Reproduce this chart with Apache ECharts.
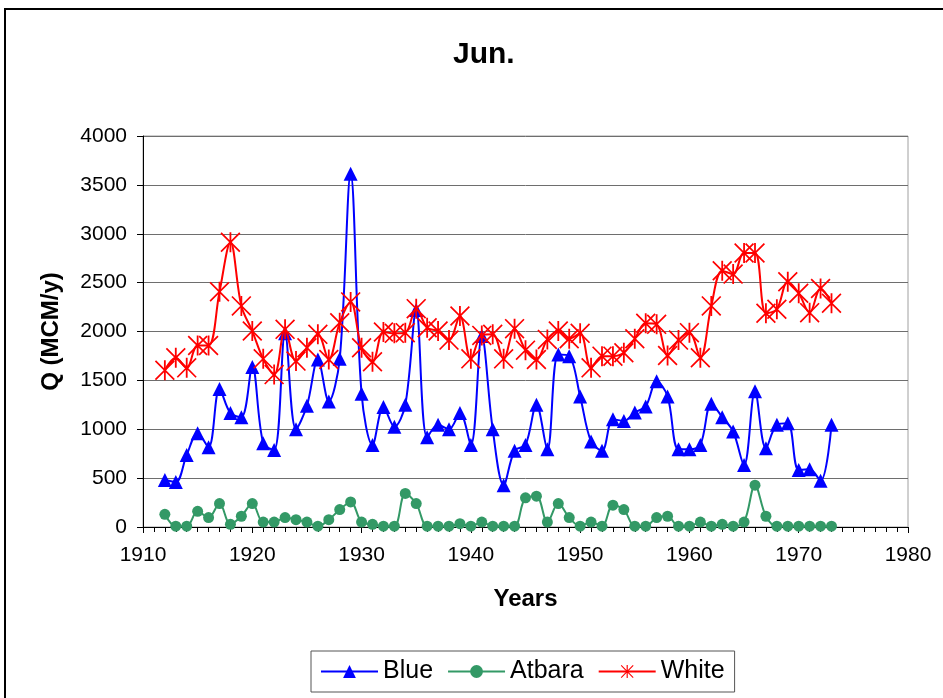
<!DOCTYPE html>
<html>
<head>
<meta charset="utf-8">
<script src="https://cdn.jsdelivr.net/npm/echarts@6/dist/echarts.min.js"></script>
<style>
html,body{margin:0;padding:0;background:#fff;}
#chart{width:943px;height:698px;}
</style>
</head>
<body>
<div id="chart"></div>
<script>
const years = [1912,1913,1914,1915,1916,1917,1918,1919,1920,1921,1922,1923,1924,1925,1926,1927,1928,1929,1930,1931,
  1932,1933,1934,1935,1936,1937,1938,1939,1940,1941,1942,1943,1944,1945,1946,1947,1948,1949,1950,1951,
  1952,1953,1954,1955,1956,1957,1958,1959,1960,1961,1962,1963,1964,1965,1966,1967,1968,1969,1970,1971,1972,1973];

const blue = [480,460,737,960,816,1412,1165,1124,1638,857,788,1981,1000,1240,1713,1285,1720,3615,1364,840,
  1227,1025,1251,2220,918,1045,1000,1165,840,1953,1000,428,781,840,1251,795,1765,1748,1336,874,
  781,1103,1085,1172,1234,1491,1336,795,795,840,1261,1124,977,634,1388,805,1045,1062,583,590,473,1045];

const atbara = [130,8,8,160,96,240,27,110,240,51,51,96,75,51,8,75,178,257,51,27,
  8,8,343,240,8,8,8,34,8,51,8,8,8,298,315,51,240,96,8,51,
  8,223,178,8,8,96,110,8,8,51,8,27,8,51,428,110,8,8,8,8,8,8];

const white = [1604,1731,1628,1857,1857,2406,2913,2262,2005,1720,1559,2022,1697,1833,1971,1713,2090,2303,1833,1690,
  1995,1981,1988,2234,2039,2005,1912,2159,1720,1960,1971,1720,2029,1809,1713,1919,2005,1926,1981,1628,
  1748,1748,1782,1926,2084,2073,1755,1912,1988,1731,2262,2622,2587,2803,2803,2187,2228,2509,2392,2193,2440,2289];

const seriesNames = ['Blue','Atbara','White'];
const chartTitle = 'Jun.';
const xName = 'Years';
const yName = 'Q (MCM/y)';

function pairs(vals){ return years.map((y,i)=>[y, vals[i]]); }

const asterisk = 'path://M9.1 0L10.9 0L10.9 20L9.1 20Z M0 1.2L1.2 0L20 18.8L18.8 20Z M18.8 0L20 1.2L1.2 20L0 18.8Z';
const FONT = '"Liberation Sans", Arial, sans-serif';

const chart = echarts.init(document.getElementById('chart'), null, {renderer:'canvas'});
chart.setOption({
  backgroundColor:'#ffffff',
  animation:false,
  title:{
    text: chartTitle,
    left: 448, top: 35,
    textStyle:{fontFamily:FONT, fontSize:30, fontWeight:'bold', color:'#000'}
  },
  graphic:[{
    type:'rect', shape:{x:5, y:9, width:1000, height:800},
    style:{fill:null, stroke:'#000', lineWidth:2}, silent:true, z:-1
  }],
  legend:{
    data: seriesNames,
    left: 311, top: 651,
    orient:'horizontal',
    itemWidth:57, itemHeight:16, itemGap:14,
    padding:[8,10,8,9],
    borderColor:'#555', borderWidth:1,
    textStyle:{fontFamily:FONT, fontSize:25, color:'#000'}
  },
  grid:{
    left:143, right:35, top:136, bottom:171,
    show:true, borderColor:'#a0a0a0', borderWidth:1, backgroundColor:'transparent'
  },
  xAxis:{
    type:'value', min:1910, max:1980, interval:10,
    name: xName, nameLocation:'middle', nameGap:60,
    nameTextStyle:{fontFamily:FONT, fontSize:24, fontWeight:'bold', color:'#000'},
    axisLine:{show:true, onZero:false, lineStyle:{color:'#000', width:1}},
    axisTick:{show:true, length:6, lineStyle:{color:'#000'}},
    minorTick:{show:true, splitNumber:10, length:5, lineStyle:{color:'#000'}},
    splitLine:{show:false},
    axisLabel:{fontFamily:FONT, fontSize:21, color:'#000', margin:18, formatter:function(v){return String(v);}}
  },
  yAxis:{
    type:'value', min:0, max:4000, interval:500,
    name: yName, nameLocation:'middle', nameGap:80, nameRotate:90,
    nameTextStyle:{fontFamily:FONT, fontSize:24, fontWeight:'bold', color:'#000'},
    axisLine:{show:true, lineStyle:{color:'#000', width:1}},
    axisTick:{show:true, length:6, lineStyle:{color:'#000'}},
    splitLine:{show:true, lineStyle:{color:'#6e6e6e', width:1}},
    axisLabel:{fontFamily:FONT, fontSize:21, color:'#000', margin:16, formatter:function(v){return String(v);}}
  },
  series:[
    {
      name:seriesNames[0], type:'line', data:pairs(blue), smooth:0.35,
      symbol:'triangle', symbolSize:14,
      lineStyle:{color:'#0000ff', width:2},
      itemStyle:{color:'#0000ff'}, z:3
    },
    {
      name:seriesNames[1], type:'line', data:pairs(atbara), smooth:0.35,
      symbol:'circle', symbolSize:11,
      lineStyle:{color:'#339966', width:2},
      itemStyle:{color:'#339966'}, z:2
    },
    {
      name:seriesNames[2], type:'line', data:pairs(white), smooth:0.35,
      symbol:asterisk, symbolSize:20,
      lineStyle:{color:'#ff0000', width:2},
      itemStyle:{color:'#ff0000'}, z:4
    }
  ]
});
</script>
</body>
</html>
